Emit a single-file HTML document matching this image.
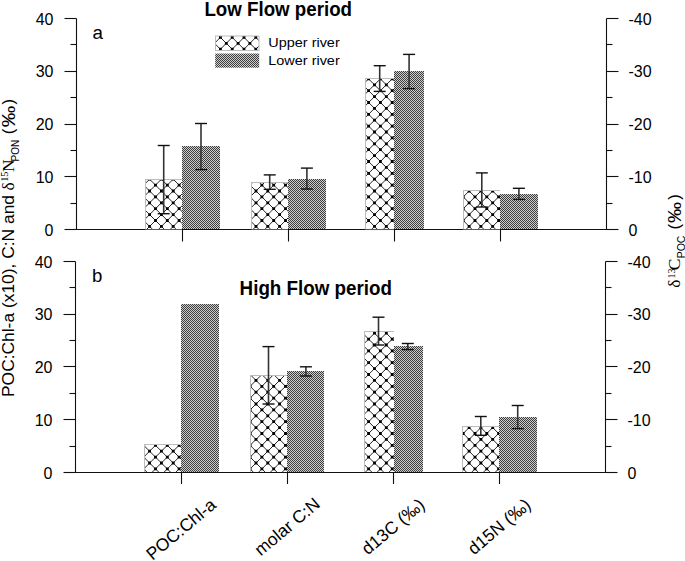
<!DOCTYPE html>
<html><head><meta charset="utf-8"><style>
html,body{margin:0;padding:0;background:#fff;}
body{width:685px;height:561px;overflow:hidden;position:relative;}
svg{position:absolute;left:0;top:0;}
text{fill:#000;}
</style></head><body>
<svg width="685" height="561" viewBox="0 0 685 561">
<defs>
<pattern id="dark" patternUnits="userSpaceOnUse" width="2" height="2">
<rect width="2" height="2" fill="#cecece"/>
<rect width="1" height="1" fill="#3c3c3c"/>
<rect x="1" y="1" width="1" height="1" fill="#3c3c3c"/>
</pattern>
</defs>
<path d="M76.5 18.5V229.5H606.5V18.5" fill="none" stroke="#111" stroke-width="1.1"/>
<line x1="64.5" y1="229.5" x2="76.5" y2="229.5" stroke="#111" stroke-width="1.1"/>
<line x1="606.5" y1="229.5" x2="618.5" y2="229.5" stroke="#111" stroke-width="1.1"/>
<line x1="70.5" y1="203.5" x2="76.5" y2="203.5" stroke="#111" stroke-width="1.1"/>
<line x1="606.5" y1="203.5" x2="612.5" y2="203.5" stroke="#111" stroke-width="1.1"/>
<line x1="64.5" y1="176.5" x2="76.5" y2="176.5" stroke="#111" stroke-width="1.1"/>
<line x1="606.5" y1="176.5" x2="618.5" y2="176.5" stroke="#111" stroke-width="1.1"/>
<line x1="70.5" y1="150.5" x2="76.5" y2="150.5" stroke="#111" stroke-width="1.1"/>
<line x1="606.5" y1="150.5" x2="612.5" y2="150.5" stroke="#111" stroke-width="1.1"/>
<line x1="64.5" y1="124.5" x2="76.5" y2="124.5" stroke="#111" stroke-width="1.1"/>
<line x1="606.5" y1="124.5" x2="618.5" y2="124.5" stroke="#111" stroke-width="1.1"/>
<line x1="70.5" y1="97.5" x2="76.5" y2="97.5" stroke="#111" stroke-width="1.1"/>
<line x1="606.5" y1="97.5" x2="612.5" y2="97.5" stroke="#111" stroke-width="1.1"/>
<line x1="64.5" y1="71.5" x2="76.5" y2="71.5" stroke="#111" stroke-width="1.1"/>
<line x1="606.5" y1="71.5" x2="618.5" y2="71.5" stroke="#111" stroke-width="1.1"/>
<line x1="70.5" y1="44.5" x2="76.5" y2="44.5" stroke="#111" stroke-width="1.1"/>
<line x1="606.5" y1="44.5" x2="612.5" y2="44.5" stroke="#111" stroke-width="1.1"/>
<line x1="64.5" y1="18.5" x2="76.5" y2="18.5" stroke="#111" stroke-width="1.1"/>
<line x1="606.5" y1="18.5" x2="618.5" y2="18.5" stroke="#111" stroke-width="1.1"/>
<clipPath id="ca0"><rect x="145" y="179" width="37.00" height="51.00"/></clipPath><clipPath id="ca0i"><rect x="146" y="180" width="36.00" height="50.00"/></clipPath><rect x="145" y="179" width="37.00" height="51.00" fill="#bcbcbc"/><rect x="146" y="180" width="36.00" height="50.00" fill="#fff"/><path clip-path="url(#ca0i)" d="M77.60 178.00L130.60 231.00M89.40 178.00L142.40 231.00M101.20 178.00L154.20 231.00M113.00 178.00L166.00 231.00M124.80 178.00L177.80 231.00M136.60 178.00L189.60 231.00M148.40 178.00L201.40 231.00M160.20 178.00L213.20 231.00M172.00 178.00L225.00 231.00M183.80 178.00L236.80 231.00M195.60 178.00L248.60 231.00M127.20 178.00L74.20 231.00M139.00 178.00L86.00 231.00M150.80 178.00L97.80 231.00M162.60 178.00L109.60 231.00M174.40 178.00L121.40 231.00M186.20 178.00L133.20 231.00M198.00 178.00L145.00 231.00M209.80 178.00L156.80 231.00M221.60 178.00L168.60 231.00M233.40 178.00L180.40 231.00M245.20 178.00L192.20 231.00M257.00 178.00L204.00 231.00" stroke="#1a1a1a" stroke-width="0.95" fill="none"/><path clip-path="url(#ca0i)" d="M142.30 183.70h2.8v2.8h-2.8zM154.10 183.70h2.8v2.8h-2.8zM165.90 183.70h2.8v2.8h-2.8zM177.70 183.70h2.8v2.8h-2.8zM142.30 195.50h2.8v2.8h-2.8zM154.10 195.50h2.8v2.8h-2.8zM165.90 195.50h2.8v2.8h-2.8zM177.70 195.50h2.8v2.8h-2.8zM142.30 207.30h2.8v2.8h-2.8zM154.10 207.30h2.8v2.8h-2.8zM165.90 207.30h2.8v2.8h-2.8zM177.70 207.30h2.8v2.8h-2.8zM142.30 219.10h2.8v2.8h-2.8zM154.10 219.10h2.8v2.8h-2.8zM165.90 219.10h2.8v2.8h-2.8zM177.70 219.10h2.8v2.8h-2.8zM148.20 177.80h2.8v2.8h-2.8zM160.00 177.80h2.8v2.8h-2.8zM171.80 177.80h2.8v2.8h-2.8zM148.20 189.60h2.8v2.8h-2.8zM160.00 189.60h2.8v2.8h-2.8zM171.80 189.60h2.8v2.8h-2.8zM148.20 201.40h2.8v2.8h-2.8zM160.00 201.40h2.8v2.8h-2.8zM171.80 201.40h2.8v2.8h-2.8zM148.20 213.20h2.8v2.8h-2.8zM160.00 213.20h2.8v2.8h-2.8zM171.80 213.20h2.8v2.8h-2.8zM148.20 225.00h2.8v2.8h-2.8zM160.00 225.00h2.8v2.8h-2.8zM171.80 225.00h2.8v2.8h-2.8z" fill="#000"/>
<rect x="182" y="146" width="38" height="84.0" fill="url(#dark)"/>
<clipPath id="ca1"><rect x="251" y="182" width="37.00" height="48.00"/></clipPath><clipPath id="ca1i"><rect x="252" y="183" width="36.00" height="47.00"/></clipPath><rect x="251" y="182" width="37.00" height="48.00" fill="#bcbcbc"/><rect x="252" y="183" width="36.00" height="47.00" fill="#fff"/><path clip-path="url(#ca1i)" d="M187.00 181.00L237.00 231.00M198.80 181.00L248.80 231.00M210.60 181.00L260.60 231.00M222.40 181.00L272.40 231.00M234.20 181.00L284.20 231.00M246.00 181.00L296.00 231.00M257.80 181.00L307.80 231.00M269.60 181.00L319.60 231.00M281.40 181.00L331.40 231.00M293.20 181.00L343.20 231.00M305.00 181.00L355.00 231.00M230.60 181.00L180.60 231.00M242.40 181.00L192.40 231.00M254.20 181.00L204.20 231.00M266.00 181.00L216.00 231.00M277.80 181.00L227.80 231.00M289.60 181.00L239.60 231.00M301.40 181.00L251.40 231.00M313.20 181.00L263.20 231.00M325.00 181.00L275.00 231.00M336.80 181.00L286.80 231.00M348.60 181.00L298.60 231.00M360.40 181.00L310.40 231.00" stroke="#1a1a1a" stroke-width="0.95" fill="none"/><path clip-path="url(#ca1i)" d="M248.70 183.70h2.8v2.8h-2.8zM260.50 183.70h2.8v2.8h-2.8zM272.30 183.70h2.8v2.8h-2.8zM284.10 183.70h2.8v2.8h-2.8zM248.70 195.50h2.8v2.8h-2.8zM260.50 195.50h2.8v2.8h-2.8zM272.30 195.50h2.8v2.8h-2.8zM284.10 195.50h2.8v2.8h-2.8zM248.70 207.30h2.8v2.8h-2.8zM260.50 207.30h2.8v2.8h-2.8zM272.30 207.30h2.8v2.8h-2.8zM284.10 207.30h2.8v2.8h-2.8zM248.70 219.10h2.8v2.8h-2.8zM260.50 219.10h2.8v2.8h-2.8zM272.30 219.10h2.8v2.8h-2.8zM284.10 219.10h2.8v2.8h-2.8zM254.60 189.60h2.8v2.8h-2.8zM266.40 189.60h2.8v2.8h-2.8zM278.20 189.60h2.8v2.8h-2.8zM254.60 201.40h2.8v2.8h-2.8zM266.40 201.40h2.8v2.8h-2.8zM278.20 201.40h2.8v2.8h-2.8zM254.60 213.20h2.8v2.8h-2.8zM266.40 213.20h2.8v2.8h-2.8zM278.20 213.20h2.8v2.8h-2.8zM254.60 225.00h2.8v2.8h-2.8zM266.40 225.00h2.8v2.8h-2.8zM278.20 225.00h2.8v2.8h-2.8z" fill="#000"/>
<rect x="288" y="179" width="38" height="51.0" fill="url(#dark)"/>
<clipPath id="ca2"><rect x="365" y="78" width="29.00" height="152.00"/></clipPath><clipPath id="ca2i"><rect x="366" y="79" width="28.00" height="151.00"/></clipPath><rect x="365" y="78" width="29.00" height="152.00" fill="#bcbcbc"/><rect x="366" y="79" width="28.00" height="151.00" fill="#fff"/><path clip-path="url(#ca2i)" d="M189.70 77.00L343.70 231.00M201.50 77.00L355.50 231.00M213.30 77.00L367.30 231.00M225.10 77.00L379.10 231.00M236.90 77.00L390.90 231.00M248.70 77.00L402.70 231.00M260.50 77.00L414.50 231.00M272.30 77.00L426.30 231.00M284.10 77.00L438.10 231.00M295.90 77.00L449.90 231.00M307.70 77.00L461.70 231.00M319.50 77.00L473.50 231.00M331.30 77.00L485.30 231.00M343.10 77.00L497.10 231.00M354.90 77.00L508.90 231.00M366.70 77.00L520.70 231.00M378.50 77.00L532.50 231.00M390.30 77.00L544.30 231.00M402.10 77.00L556.10 231.00M413.90 77.00L567.90 231.00M346.90 77.00L192.90 231.00M358.70 77.00L204.70 231.00M370.50 77.00L216.50 231.00M382.30 77.00L228.30 231.00M394.10 77.00L240.10 231.00M405.90 77.00L251.90 231.00M417.70 77.00L263.70 231.00M429.50 77.00L275.50 231.00M441.30 77.00L287.30 231.00M453.10 77.00L299.10 231.00M464.90 77.00L310.90 231.00M476.70 77.00L322.70 231.00M488.50 77.00L334.50 231.00M500.30 77.00L346.30 231.00M512.10 77.00L358.10 231.00M523.90 77.00L369.90 231.00M535.70 77.00L381.70 231.00M547.50 77.00L393.50 231.00M559.30 77.00L405.30 231.00" stroke="#1a1a1a" stroke-width="0.95" fill="none"/><path clip-path="url(#ca2i)" d="M367.20 77.50h2.8v2.8h-2.8zM379.00 77.50h2.8v2.8h-2.8zM390.80 77.50h2.8v2.8h-2.8zM367.20 89.30h2.8v2.8h-2.8zM379.00 89.30h2.8v2.8h-2.8zM390.80 89.30h2.8v2.8h-2.8zM367.20 101.10h2.8v2.8h-2.8zM379.00 101.10h2.8v2.8h-2.8zM390.80 101.10h2.8v2.8h-2.8zM367.20 112.90h2.8v2.8h-2.8zM379.00 112.90h2.8v2.8h-2.8zM390.80 112.90h2.8v2.8h-2.8zM367.20 124.70h2.8v2.8h-2.8zM379.00 124.70h2.8v2.8h-2.8zM390.80 124.70h2.8v2.8h-2.8zM367.20 136.50h2.8v2.8h-2.8zM379.00 136.50h2.8v2.8h-2.8zM390.80 136.50h2.8v2.8h-2.8zM367.20 148.30h2.8v2.8h-2.8zM379.00 148.30h2.8v2.8h-2.8zM390.80 148.30h2.8v2.8h-2.8zM367.20 160.10h2.8v2.8h-2.8zM379.00 160.10h2.8v2.8h-2.8zM390.80 160.10h2.8v2.8h-2.8zM367.20 171.90h2.8v2.8h-2.8zM379.00 171.90h2.8v2.8h-2.8zM390.80 171.90h2.8v2.8h-2.8zM367.20 183.70h2.8v2.8h-2.8zM379.00 183.70h2.8v2.8h-2.8zM390.80 183.70h2.8v2.8h-2.8zM367.20 195.50h2.8v2.8h-2.8zM379.00 195.50h2.8v2.8h-2.8zM390.80 195.50h2.8v2.8h-2.8zM367.20 207.30h2.8v2.8h-2.8zM379.00 207.30h2.8v2.8h-2.8zM390.80 207.30h2.8v2.8h-2.8zM367.20 219.10h2.8v2.8h-2.8zM379.00 219.10h2.8v2.8h-2.8zM390.80 219.10h2.8v2.8h-2.8zM373.10 83.40h2.8v2.8h-2.8zM384.90 83.40h2.8v2.8h-2.8zM373.10 95.20h2.8v2.8h-2.8zM384.90 95.20h2.8v2.8h-2.8zM373.10 107.00h2.8v2.8h-2.8zM384.90 107.00h2.8v2.8h-2.8zM373.10 118.80h2.8v2.8h-2.8zM384.90 118.80h2.8v2.8h-2.8zM373.10 130.60h2.8v2.8h-2.8zM384.90 130.60h2.8v2.8h-2.8zM373.10 142.40h2.8v2.8h-2.8zM384.90 142.40h2.8v2.8h-2.8zM373.10 154.20h2.8v2.8h-2.8zM384.90 154.20h2.8v2.8h-2.8zM373.10 166.00h2.8v2.8h-2.8zM384.90 166.00h2.8v2.8h-2.8zM373.10 177.80h2.8v2.8h-2.8zM384.90 177.80h2.8v2.8h-2.8zM373.10 189.60h2.8v2.8h-2.8zM384.90 189.60h2.8v2.8h-2.8zM373.10 201.40h2.8v2.8h-2.8zM384.90 201.40h2.8v2.8h-2.8zM373.10 213.20h2.8v2.8h-2.8zM384.90 213.20h2.8v2.8h-2.8zM373.10 225.00h2.8v2.8h-2.8zM384.90 225.00h2.8v2.8h-2.8z" fill="#000"/>
<rect x="394" y="71" width="30" height="159.0" fill="url(#dark)"/>
<clipPath id="ca3"><rect x="463" y="190" width="37.00" height="40.00"/></clipPath><clipPath id="ca3i"><rect x="464" y="191" width="36.00" height="39.00"/></clipPath><rect x="463" y="190" width="37.00" height="40.00" fill="#bcbcbc"/><rect x="464" y="191" width="36.00" height="39.00" fill="#fff"/><path clip-path="url(#ca3i)" d="M408.10 189.00L450.10 231.00M419.90 189.00L461.90 231.00M431.70 189.00L473.70 231.00M443.50 189.00L485.50 231.00M455.30 189.00L497.30 231.00M467.10 189.00L509.10 231.00M478.90 189.00L520.90 231.00M490.70 189.00L532.70 231.00M502.50 189.00L544.50 231.00M514.30 189.00L556.30 231.00M447.50 189.00L405.50 231.00M459.30 189.00L417.30 231.00M471.10 189.00L429.10 231.00M482.90 189.00L440.90 231.00M494.70 189.00L452.70 231.00M506.50 189.00L464.50 231.00M518.30 189.00L476.30 231.00M530.10 189.00L488.10 231.00M541.90 189.00L499.90 231.00M553.70 189.00L511.70 231.00" stroke="#1a1a1a" stroke-width="0.95" fill="none"/><path clip-path="url(#ca3i)" d="M461.80 195.50h2.8v2.8h-2.8zM473.60 195.50h2.8v2.8h-2.8zM485.40 195.50h2.8v2.8h-2.8zM497.20 195.50h2.8v2.8h-2.8zM461.80 207.30h2.8v2.8h-2.8zM473.60 207.30h2.8v2.8h-2.8zM485.40 207.30h2.8v2.8h-2.8zM497.20 207.30h2.8v2.8h-2.8zM461.80 219.10h2.8v2.8h-2.8zM473.60 219.10h2.8v2.8h-2.8zM485.40 219.10h2.8v2.8h-2.8zM497.20 219.10h2.8v2.8h-2.8zM467.70 189.60h2.8v2.8h-2.8zM479.50 189.60h2.8v2.8h-2.8zM491.30 189.60h2.8v2.8h-2.8zM467.70 201.40h2.8v2.8h-2.8zM479.50 201.40h2.8v2.8h-2.8zM491.30 201.40h2.8v2.8h-2.8zM467.70 213.20h2.8v2.8h-2.8zM479.50 213.20h2.8v2.8h-2.8zM491.30 213.20h2.8v2.8h-2.8zM467.70 225.00h2.8v2.8h-2.8zM479.50 225.00h2.8v2.8h-2.8zM491.30 225.00h2.8v2.8h-2.8z" fill="#000"/>
<rect x="500" y="194" width="38" height="36.0" fill="url(#dark)"/>
<line x1="163.7" y1="145.5" x2="163.7" y2="213.7" stroke="#333" stroke-width="1.6"/>
<line x1="157.7" y1="145.5" x2="169.7" y2="145.5" stroke="#111" stroke-width="1.4"/>
<line x1="157.7" y1="213.7" x2="169.7" y2="213.7" stroke="#111" stroke-width="1.4"/>
<line x1="201" y1="123.5" x2="201" y2="169.6" stroke="#333" stroke-width="1.6"/>
<line x1="195" y1="123.5" x2="207" y2="123.5" stroke="#111" stroke-width="1.4"/>
<line x1="195" y1="169.6" x2="207" y2="169.6" stroke="#111" stroke-width="1.4"/>
<line x1="269.7" y1="174.9" x2="269.7" y2="189.3" stroke="#333" stroke-width="1.6"/>
<line x1="263.7" y1="174.9" x2="275.7" y2="174.9" stroke="#111" stroke-width="1.4"/>
<line x1="263.7" y1="189.3" x2="275.7" y2="189.3" stroke="#111" stroke-width="1.4"/>
<line x1="306.9" y1="168.1" x2="306.9" y2="189" stroke="#333" stroke-width="1.6"/>
<line x1="300.9" y1="168.1" x2="312.9" y2="168.1" stroke="#111" stroke-width="1.4"/>
<line x1="300.9" y1="189" x2="312.9" y2="189" stroke="#111" stroke-width="1.4"/>
<line x1="379.7" y1="65.7" x2="379.7" y2="91.4" stroke="#333" stroke-width="1.6"/>
<line x1="373.7" y1="65.7" x2="385.7" y2="65.7" stroke="#111" stroke-width="1.4"/>
<line x1="373.7" y1="91.4" x2="385.7" y2="91.4" stroke="#111" stroke-width="1.4"/>
<line x1="409.1" y1="54.4" x2="409.1" y2="88.6" stroke="#333" stroke-width="1.6"/>
<line x1="403.1" y1="54.4" x2="415.1" y2="54.4" stroke="#111" stroke-width="1.4"/>
<line x1="403.1" y1="88.6" x2="415.1" y2="88.6" stroke="#111" stroke-width="1.4"/>
<line x1="481.8" y1="172.9" x2="481.8" y2="207" stroke="#333" stroke-width="1.6"/>
<line x1="475.8" y1="172.9" x2="487.8" y2="172.9" stroke="#111" stroke-width="1.4"/>
<line x1="475.8" y1="207" x2="487.8" y2="207" stroke="#111" stroke-width="1.4"/>
<line x1="518.9" y1="188.3" x2="518.9" y2="199.4" stroke="#333" stroke-width="1.6"/>
<line x1="512.9" y1="188.3" x2="524.9" y2="188.3" stroke="#111" stroke-width="1.4"/>
<line x1="512.9" y1="199.4" x2="524.9" y2="199.4" stroke="#111" stroke-width="1.4"/>
<line x1="76.5" y1="229.5" x2="606.5" y2="229.5" stroke="#111" stroke-width="1.1"/>
<line x1="145" y1="229.5" x2="182" y2="229.5" stroke="#5a5a5a" stroke-width="1.1"/>
<line x1="251" y1="229.5" x2="288" y2="229.5" stroke="#5a5a5a" stroke-width="1.1"/>
<line x1="365" y1="229.5" x2="394" y2="229.5" stroke="#5a5a5a" stroke-width="1.1"/>
<line x1="463" y1="229.5" x2="500" y2="229.5" stroke="#5a5a5a" stroke-width="1.1"/>
<line x1="182.5" y1="229.5" x2="182.5" y2="241.5" stroke="#111" stroke-width="1.1"/>
<line x1="288.5" y1="229.5" x2="288.5" y2="241.5" stroke="#111" stroke-width="1.1"/>
<line x1="394.5" y1="229.5" x2="394.5" y2="241.5" stroke="#111" stroke-width="1.1"/>
<line x1="500.5" y1="229.5" x2="500.5" y2="241.5" stroke="#111" stroke-width="1.1"/>
<path d="M75.5 261.5V472.5H605.5V261.5" fill="none" stroke="#111" stroke-width="1.1"/>
<line x1="63.5" y1="472.5" x2="75.5" y2="472.5" stroke="#111" stroke-width="1.1"/>
<line x1="605.5" y1="472.5" x2="617.5" y2="472.5" stroke="#111" stroke-width="1.1"/>
<line x1="69.5" y1="446.5" x2="75.5" y2="446.5" stroke="#111" stroke-width="1.1"/>
<line x1="605.5" y1="446.5" x2="611.5" y2="446.5" stroke="#111" stroke-width="1.1"/>
<line x1="63.5" y1="419.5" x2="75.5" y2="419.5" stroke="#111" stroke-width="1.1"/>
<line x1="605.5" y1="419.5" x2="617.5" y2="419.5" stroke="#111" stroke-width="1.1"/>
<line x1="69.5" y1="393.5" x2="75.5" y2="393.5" stroke="#111" stroke-width="1.1"/>
<line x1="605.5" y1="393.5" x2="611.5" y2="393.5" stroke="#111" stroke-width="1.1"/>
<line x1="63.5" y1="366.5" x2="75.5" y2="366.5" stroke="#111" stroke-width="1.1"/>
<line x1="605.5" y1="366.5" x2="617.5" y2="366.5" stroke="#111" stroke-width="1.1"/>
<line x1="69.5" y1="340.5" x2="75.5" y2="340.5" stroke="#111" stroke-width="1.1"/>
<line x1="605.5" y1="340.5" x2="611.5" y2="340.5" stroke="#111" stroke-width="1.1"/>
<line x1="63.5" y1="314.5" x2="75.5" y2="314.5" stroke="#111" stroke-width="1.1"/>
<line x1="605.5" y1="314.5" x2="617.5" y2="314.5" stroke="#111" stroke-width="1.1"/>
<line x1="69.5" y1="287.5" x2="75.5" y2="287.5" stroke="#111" stroke-width="1.1"/>
<line x1="605.5" y1="287.5" x2="611.5" y2="287.5" stroke="#111" stroke-width="1.1"/>
<line x1="63.5" y1="261.5" x2="75.5" y2="261.5" stroke="#111" stroke-width="1.1"/>
<line x1="605.5" y1="261.5" x2="617.5" y2="261.5" stroke="#111" stroke-width="1.1"/>
<clipPath id="cb0"><rect x="144" y="444" width="37.00" height="29.00"/></clipPath><clipPath id="cb0i"><rect x="145" y="445" width="36.00" height="28.00"/></clipPath><rect x="144" y="444" width="37.00" height="29.00" fill="#bcbcbc"/><rect x="145" y="445" width="36.00" height="28.00" fill="#fff"/><path clip-path="url(#cb0i)" d="M94.20 443.00L125.20 474.00M106.00 443.00L137.00 474.00M117.80 443.00L148.80 474.00M129.60 443.00L160.60 474.00M141.40 443.00L172.40 474.00M153.20 443.00L184.20 474.00M165.00 443.00L196.00 474.00M176.80 443.00L207.80 474.00M188.60 443.00L219.60 474.00M200.40 443.00L231.40 474.00M122.40 443.00L91.40 474.00M134.20 443.00L103.20 474.00M146.00 443.00L115.00 474.00M157.80 443.00L126.80 474.00M169.60 443.00L138.60 474.00M181.40 443.00L150.40 474.00M193.20 443.00L162.20 474.00M205.00 443.00L174.00 474.00M216.80 443.00L185.80 474.00M228.60 443.00L197.60 474.00" stroke="#1a1a1a" stroke-width="0.95" fill="none"/><path clip-path="url(#cb0i)" d="M142.30 443.90h2.8v2.8h-2.8zM154.10 443.90h2.8v2.8h-2.8zM165.90 443.90h2.8v2.8h-2.8zM177.70 443.90h2.8v2.8h-2.8zM142.30 455.70h2.8v2.8h-2.8zM154.10 455.70h2.8v2.8h-2.8zM165.90 455.70h2.8v2.8h-2.8zM177.70 455.70h2.8v2.8h-2.8zM142.30 467.50h2.8v2.8h-2.8zM154.10 467.50h2.8v2.8h-2.8zM165.90 467.50h2.8v2.8h-2.8zM177.70 467.50h2.8v2.8h-2.8zM148.20 449.80h2.8v2.8h-2.8zM160.00 449.80h2.8v2.8h-2.8zM171.80 449.80h2.8v2.8h-2.8zM148.20 461.60h2.8v2.8h-2.8zM160.00 461.60h2.8v2.8h-2.8zM171.80 461.60h2.8v2.8h-2.8zM148.20 473.40h2.8v2.8h-2.8zM160.00 473.40h2.8v2.8h-2.8zM171.80 473.40h2.8v2.8h-2.8z" fill="#000"/>
<rect x="181" y="304" width="38" height="169.0" fill="url(#dark)"/>
<clipPath id="cb1"><rect x="250" y="375" width="37.00" height="98.00"/></clipPath><clipPath id="cb1i"><rect x="251" y="376" width="36.00" height="97.00"/></clipPath><rect x="250" y="375" width="37.00" height="98.00" fill="#bcbcbc"/><rect x="251" y="376" width="36.00" height="97.00" fill="#fff"/><path clip-path="url(#cb1i)" d="M131.60 374.00L231.60 474.00M143.40 374.00L243.40 474.00M155.20 374.00L255.20 474.00M167.00 374.00L267.00 474.00M178.80 374.00L278.80 474.00M190.60 374.00L290.60 474.00M202.40 374.00L302.40 474.00M214.20 374.00L314.20 474.00M226.00 374.00L326.00 474.00M237.80 374.00L337.80 474.00M249.60 374.00L349.60 474.00M261.40 374.00L361.40 474.00M273.20 374.00L373.20 474.00M285.00 374.00L385.00 474.00M296.80 374.00L396.80 474.00M308.60 374.00L408.60 474.00M238.80 374.00L138.80 474.00M250.60 374.00L150.60 474.00M262.40 374.00L162.40 474.00M274.20 374.00L174.20 474.00M286.00 374.00L186.00 474.00M297.80 374.00L197.80 474.00M309.60 374.00L209.60 474.00M321.40 374.00L221.40 474.00M333.20 374.00L233.20 474.00M345.00 374.00L245.00 474.00M356.80 374.00L256.80 474.00M368.60 374.00L268.60 474.00M380.40 374.00L280.40 474.00M392.20 374.00L292.20 474.00M404.00 374.00L304.00 474.00" stroke="#1a1a1a" stroke-width="0.95" fill="none"/><path clip-path="url(#cb1i)" d="M248.70 373.10h2.8v2.8h-2.8zM260.50 373.10h2.8v2.8h-2.8zM272.30 373.10h2.8v2.8h-2.8zM284.10 373.10h2.8v2.8h-2.8zM248.70 384.90h2.8v2.8h-2.8zM260.50 384.90h2.8v2.8h-2.8zM272.30 384.90h2.8v2.8h-2.8zM284.10 384.90h2.8v2.8h-2.8zM248.70 396.70h2.8v2.8h-2.8zM260.50 396.70h2.8v2.8h-2.8zM272.30 396.70h2.8v2.8h-2.8zM284.10 396.70h2.8v2.8h-2.8zM248.70 408.50h2.8v2.8h-2.8zM260.50 408.50h2.8v2.8h-2.8zM272.30 408.50h2.8v2.8h-2.8zM284.10 408.50h2.8v2.8h-2.8zM248.70 420.30h2.8v2.8h-2.8zM260.50 420.30h2.8v2.8h-2.8zM272.30 420.30h2.8v2.8h-2.8zM284.10 420.30h2.8v2.8h-2.8zM248.70 432.10h2.8v2.8h-2.8zM260.50 432.10h2.8v2.8h-2.8zM272.30 432.10h2.8v2.8h-2.8zM284.10 432.10h2.8v2.8h-2.8zM248.70 443.90h2.8v2.8h-2.8zM260.50 443.90h2.8v2.8h-2.8zM272.30 443.90h2.8v2.8h-2.8zM284.10 443.90h2.8v2.8h-2.8zM248.70 455.70h2.8v2.8h-2.8zM260.50 455.70h2.8v2.8h-2.8zM272.30 455.70h2.8v2.8h-2.8zM284.10 455.70h2.8v2.8h-2.8zM248.70 467.50h2.8v2.8h-2.8zM260.50 467.50h2.8v2.8h-2.8zM272.30 467.50h2.8v2.8h-2.8zM284.10 467.50h2.8v2.8h-2.8zM254.60 379.00h2.8v2.8h-2.8zM266.40 379.00h2.8v2.8h-2.8zM278.20 379.00h2.8v2.8h-2.8zM254.60 390.80h2.8v2.8h-2.8zM266.40 390.80h2.8v2.8h-2.8zM278.20 390.80h2.8v2.8h-2.8zM254.60 402.60h2.8v2.8h-2.8zM266.40 402.60h2.8v2.8h-2.8zM278.20 402.60h2.8v2.8h-2.8zM254.60 414.40h2.8v2.8h-2.8zM266.40 414.40h2.8v2.8h-2.8zM278.20 414.40h2.8v2.8h-2.8zM254.60 426.20h2.8v2.8h-2.8zM266.40 426.20h2.8v2.8h-2.8zM278.20 426.20h2.8v2.8h-2.8zM254.60 438.00h2.8v2.8h-2.8zM266.40 438.00h2.8v2.8h-2.8zM278.20 438.00h2.8v2.8h-2.8zM254.60 449.80h2.8v2.8h-2.8zM266.40 449.80h2.8v2.8h-2.8zM278.20 449.80h2.8v2.8h-2.8zM254.60 461.60h2.8v2.8h-2.8zM266.40 461.60h2.8v2.8h-2.8zM278.20 461.60h2.8v2.8h-2.8zM254.60 473.40h2.8v2.8h-2.8zM266.40 473.40h2.8v2.8h-2.8zM278.20 473.40h2.8v2.8h-2.8z" fill="#000"/>
<rect x="287" y="371" width="37" height="102.0" fill="url(#dark)"/>
<clipPath id="cb2"><rect x="364" y="331" width="30.00" height="142.00"/></clipPath><clipPath id="cb2i"><rect x="365" y="332" width="29.00" height="141.00"/></clipPath><rect x="364" y="331" width="30.00" height="142.00" fill="#bcbcbc"/><rect x="365" y="332" width="29.00" height="141.00" fill="#fff"/><path clip-path="url(#cb2i)" d="M206.10 330.00L350.10 474.00M217.90 330.00L361.90 474.00M229.70 330.00L373.70 474.00M241.50 330.00L385.50 474.00M253.30 330.00L397.30 474.00M265.10 330.00L409.10 474.00M276.90 330.00L420.90 474.00M288.70 330.00L432.70 474.00M300.50 330.00L444.50 474.00M312.30 330.00L456.30 474.00M324.10 330.00L468.10 474.00M335.90 330.00L479.90 474.00M347.70 330.00L491.70 474.00M359.50 330.00L503.50 474.00M371.30 330.00L515.30 474.00M383.10 330.00L527.10 474.00M394.90 330.00L538.90 474.00M406.70 330.00L550.70 474.00M342.30 330.00L198.30 474.00M354.10 330.00L210.10 474.00M365.90 330.00L221.90 474.00M377.70 330.00L233.70 474.00M389.50 330.00L245.50 474.00M401.30 330.00L257.30 474.00M413.10 330.00L269.10 474.00M424.90 330.00L280.90 474.00M436.70 330.00L292.70 474.00M448.50 330.00L304.50 474.00M460.30 330.00L316.30 474.00M472.10 330.00L328.10 474.00M483.90 330.00L339.90 474.00M495.70 330.00L351.70 474.00M507.50 330.00L363.50 474.00M519.30 330.00L375.30 474.00M531.10 330.00L387.10 474.00M542.90 330.00L398.90 474.00M554.70 330.00L410.70 474.00" stroke="#1a1a1a" stroke-width="0.95" fill="none"/><path clip-path="url(#cb2i)" d="M367.20 337.70h2.8v2.8h-2.8zM379.00 337.70h2.8v2.8h-2.8zM390.80 337.70h2.8v2.8h-2.8zM367.20 349.50h2.8v2.8h-2.8zM379.00 349.50h2.8v2.8h-2.8zM390.80 349.50h2.8v2.8h-2.8zM367.20 361.30h2.8v2.8h-2.8zM379.00 361.30h2.8v2.8h-2.8zM390.80 361.30h2.8v2.8h-2.8zM367.20 373.10h2.8v2.8h-2.8zM379.00 373.10h2.8v2.8h-2.8zM390.80 373.10h2.8v2.8h-2.8zM367.20 384.90h2.8v2.8h-2.8zM379.00 384.90h2.8v2.8h-2.8zM390.80 384.90h2.8v2.8h-2.8zM367.20 396.70h2.8v2.8h-2.8zM379.00 396.70h2.8v2.8h-2.8zM390.80 396.70h2.8v2.8h-2.8zM367.20 408.50h2.8v2.8h-2.8zM379.00 408.50h2.8v2.8h-2.8zM390.80 408.50h2.8v2.8h-2.8zM367.20 420.30h2.8v2.8h-2.8zM379.00 420.30h2.8v2.8h-2.8zM390.80 420.30h2.8v2.8h-2.8zM367.20 432.10h2.8v2.8h-2.8zM379.00 432.10h2.8v2.8h-2.8zM390.80 432.10h2.8v2.8h-2.8zM367.20 443.90h2.8v2.8h-2.8zM379.00 443.90h2.8v2.8h-2.8zM390.80 443.90h2.8v2.8h-2.8zM367.20 455.70h2.8v2.8h-2.8zM379.00 455.70h2.8v2.8h-2.8zM390.80 455.70h2.8v2.8h-2.8zM367.20 467.50h2.8v2.8h-2.8zM379.00 467.50h2.8v2.8h-2.8zM390.80 467.50h2.8v2.8h-2.8zM361.30 331.80h2.8v2.8h-2.8zM373.10 331.80h2.8v2.8h-2.8zM384.90 331.80h2.8v2.8h-2.8zM361.30 343.60h2.8v2.8h-2.8zM373.10 343.60h2.8v2.8h-2.8zM384.90 343.60h2.8v2.8h-2.8zM361.30 355.40h2.8v2.8h-2.8zM373.10 355.40h2.8v2.8h-2.8zM384.90 355.40h2.8v2.8h-2.8zM361.30 367.20h2.8v2.8h-2.8zM373.10 367.20h2.8v2.8h-2.8zM384.90 367.20h2.8v2.8h-2.8zM361.30 379.00h2.8v2.8h-2.8zM373.10 379.00h2.8v2.8h-2.8zM384.90 379.00h2.8v2.8h-2.8zM361.30 390.80h2.8v2.8h-2.8zM373.10 390.80h2.8v2.8h-2.8zM384.90 390.80h2.8v2.8h-2.8zM361.30 402.60h2.8v2.8h-2.8zM373.10 402.60h2.8v2.8h-2.8zM384.90 402.60h2.8v2.8h-2.8zM361.30 414.40h2.8v2.8h-2.8zM373.10 414.40h2.8v2.8h-2.8zM384.90 414.40h2.8v2.8h-2.8zM361.30 426.20h2.8v2.8h-2.8zM373.10 426.20h2.8v2.8h-2.8zM384.90 426.20h2.8v2.8h-2.8zM361.30 438.00h2.8v2.8h-2.8zM373.10 438.00h2.8v2.8h-2.8zM384.90 438.00h2.8v2.8h-2.8zM361.30 449.80h2.8v2.8h-2.8zM373.10 449.80h2.8v2.8h-2.8zM384.90 449.80h2.8v2.8h-2.8zM361.30 461.60h2.8v2.8h-2.8zM373.10 461.60h2.8v2.8h-2.8zM384.90 461.60h2.8v2.8h-2.8zM361.30 473.40h2.8v2.8h-2.8zM373.10 473.40h2.8v2.8h-2.8zM384.90 473.40h2.8v2.8h-2.8z" fill="#000"/>
<rect x="394" y="346" width="29" height="127.0" fill="url(#dark)"/>
<clipPath id="cb3"><rect x="462" y="426" width="37.00" height="47.00"/></clipPath><clipPath id="cb3i"><rect x="463" y="427" width="36.00" height="46.00"/></clipPath><rect x="462" y="426" width="37.00" height="47.00" fill="#bcbcbc"/><rect x="463" y="427" width="36.00" height="46.00" fill="#fff"/><path clip-path="url(#cb3i)" d="M395.70 425.00L444.70 474.00M407.50 425.00L456.50 474.00M419.30 425.00L468.30 474.00M431.10 425.00L480.10 474.00M442.90 425.00L491.90 474.00M454.70 425.00L503.70 474.00M466.50 425.00L515.50 474.00M478.30 425.00L527.30 474.00M490.10 425.00L539.10 474.00M501.90 425.00L550.90 474.00M513.70 425.00L562.70 474.00M448.10 425.00L399.10 474.00M459.90 425.00L410.90 474.00M471.70 425.00L422.70 474.00M483.50 425.00L434.50 474.00M495.30 425.00L446.30 474.00M507.10 425.00L458.10 474.00M518.90 425.00L469.90 474.00M530.70 425.00L481.70 474.00M542.50 425.00L493.50 474.00M554.30 425.00L505.30 474.00M566.10 425.00L517.10 474.00" stroke="#1a1a1a" stroke-width="0.95" fill="none"/><path clip-path="url(#cb3i)" d="M461.80 432.10h2.8v2.8h-2.8zM473.60 432.10h2.8v2.8h-2.8zM485.40 432.10h2.8v2.8h-2.8zM497.20 432.10h2.8v2.8h-2.8zM461.80 443.90h2.8v2.8h-2.8zM473.60 443.90h2.8v2.8h-2.8zM485.40 443.90h2.8v2.8h-2.8zM497.20 443.90h2.8v2.8h-2.8zM461.80 455.70h2.8v2.8h-2.8zM473.60 455.70h2.8v2.8h-2.8zM485.40 455.70h2.8v2.8h-2.8zM497.20 455.70h2.8v2.8h-2.8zM461.80 467.50h2.8v2.8h-2.8zM473.60 467.50h2.8v2.8h-2.8zM485.40 467.50h2.8v2.8h-2.8zM497.20 467.50h2.8v2.8h-2.8zM467.70 426.20h2.8v2.8h-2.8zM479.50 426.20h2.8v2.8h-2.8zM491.30 426.20h2.8v2.8h-2.8zM467.70 438.00h2.8v2.8h-2.8zM479.50 438.00h2.8v2.8h-2.8zM491.30 438.00h2.8v2.8h-2.8zM467.70 449.80h2.8v2.8h-2.8zM479.50 449.80h2.8v2.8h-2.8zM491.30 449.80h2.8v2.8h-2.8zM467.70 461.60h2.8v2.8h-2.8zM479.50 461.60h2.8v2.8h-2.8zM491.30 461.60h2.8v2.8h-2.8zM467.70 473.40h2.8v2.8h-2.8zM479.50 473.40h2.8v2.8h-2.8zM491.30 473.40h2.8v2.8h-2.8z" fill="#000"/>
<rect x="499" y="417" width="38" height="56.0" fill="url(#dark)"/>
<line x1="268.5" y1="346.6" x2="268.5" y2="404" stroke="#333" stroke-width="1.6"/>
<line x1="262.5" y1="346.6" x2="274.5" y2="346.6" stroke="#111" stroke-width="1.4"/>
<line x1="262.5" y1="404" x2="274.5" y2="404" stroke="#111" stroke-width="1.4"/>
<line x1="305.9" y1="366.8" x2="305.9" y2="376" stroke="#333" stroke-width="1.6"/>
<line x1="299.9" y1="366.8" x2="311.9" y2="366.8" stroke="#111" stroke-width="1.4"/>
<line x1="299.9" y1="376" x2="311.9" y2="376" stroke="#111" stroke-width="1.4"/>
<line x1="378.5" y1="317.2" x2="378.5" y2="345" stroke="#333" stroke-width="1.6"/>
<line x1="372.5" y1="317.2" x2="384.5" y2="317.2" stroke="#111" stroke-width="1.4"/>
<line x1="372.5" y1="345" x2="384.5" y2="345" stroke="#111" stroke-width="1.4"/>
<line x1="407.8" y1="343.5" x2="407.8" y2="349.6" stroke="#333" stroke-width="1.6"/>
<line x1="401.8" y1="343.5" x2="413.8" y2="343.5" stroke="#111" stroke-width="1.4"/>
<line x1="401.8" y1="349.6" x2="413.8" y2="349.6" stroke="#111" stroke-width="1.4"/>
<line x1="480.8" y1="416.5" x2="480.8" y2="435.3" stroke="#333" stroke-width="1.6"/>
<line x1="474.8" y1="416.5" x2="486.8" y2="416.5" stroke="#111" stroke-width="1.4"/>
<line x1="474.8" y1="435.3" x2="486.8" y2="435.3" stroke="#111" stroke-width="1.4"/>
<line x1="517.7" y1="405.5" x2="517.7" y2="428.6" stroke="#333" stroke-width="1.6"/>
<line x1="511.70000000000005" y1="405.5" x2="523.7" y2="405.5" stroke="#111" stroke-width="1.4"/>
<line x1="511.70000000000005" y1="428.6" x2="523.7" y2="428.6" stroke="#111" stroke-width="1.4"/>
<line x1="75.5" y1="472.5" x2="605.5" y2="472.5" stroke="#111" stroke-width="1.1"/>
<line x1="181.5" y1="472.5" x2="181.5" y2="484" stroke="#111" stroke-width="1.1"/>
<line x1="287.5" y1="472.5" x2="287.5" y2="484" stroke="#111" stroke-width="1.1"/>
<line x1="393.5" y1="472.5" x2="393.5" y2="484" stroke="#111" stroke-width="1.1"/>
<line x1="499.5" y1="472.5" x2="499.5" y2="484" stroke="#111" stroke-width="1.1"/>
<text x="53.5" y="235.6" font-family="'Liberation Sans', sans-serif" font-size="16" text-anchor="end">0</text>
<text x="628.5" y="235.6" font-family="'Liberation Sans', sans-serif" font-size="16">0</text>
<text x="53.5" y="182.85" font-family="'Liberation Sans', sans-serif" font-size="16" text-anchor="end">10</text>
<text x="628.5" y="182.85" font-family="'Liberation Sans', sans-serif" font-size="16">-10</text>
<text x="53.5" y="130.1" font-family="'Liberation Sans', sans-serif" font-size="16" text-anchor="end">20</text>
<text x="628.5" y="130.1" font-family="'Liberation Sans', sans-serif" font-size="16">-20</text>
<text x="53.5" y="77.35" font-family="'Liberation Sans', sans-serif" font-size="16" text-anchor="end">30</text>
<text x="628.5" y="77.35" font-family="'Liberation Sans', sans-serif" font-size="16">-30</text>
<text x="53.5" y="24.6" font-family="'Liberation Sans', sans-serif" font-size="16" text-anchor="end">40</text>
<text x="628.5" y="24.6" font-family="'Liberation Sans', sans-serif" font-size="16">-40</text>
<text x="52.5" y="478.6" font-family="'Liberation Sans', sans-serif" font-size="16" text-anchor="end">0</text>
<text x="627.5" y="478.6" font-family="'Liberation Sans', sans-serif" font-size="16">0</text>
<text x="52.5" y="425.85" font-family="'Liberation Sans', sans-serif" font-size="16" text-anchor="end">10</text>
<text x="627.5" y="425.85" font-family="'Liberation Sans', sans-serif" font-size="16">-10</text>
<text x="52.5" y="373.1" font-family="'Liberation Sans', sans-serif" font-size="16" text-anchor="end">20</text>
<text x="627.5" y="373.1" font-family="'Liberation Sans', sans-serif" font-size="16">-20</text>
<text x="52.5" y="320.35" font-family="'Liberation Sans', sans-serif" font-size="16" text-anchor="end">30</text>
<text x="627.5" y="320.35" font-family="'Liberation Sans', sans-serif" font-size="16">-30</text>
<text x="52.5" y="267.6" font-family="'Liberation Sans', sans-serif" font-size="16" text-anchor="end">40</text>
<text x="627.5" y="267.6" font-family="'Liberation Sans', sans-serif" font-size="16">-40</text>
<text x="92.6" y="38.8" font-family="'Liberation Sans', sans-serif" font-size="18.8">a</text>
<text x="91.9" y="281.8" font-family="'Liberation Sans', sans-serif" font-size="18.6">b</text>
<text x="204.4" y="15.6" font-family="'Liberation Sans', sans-serif" font-size="20" font-weight="bold" textLength="147.6" lengthAdjust="spacingAndGlyphs">Low Flow period</text>
<text x="239.6" y="294.8" font-family="'Liberation Sans', sans-serif" font-size="19.6" font-weight="bold" textLength="152.4" lengthAdjust="spacingAndGlyphs">High Flow period</text>
<clipPath id="cleg"><rect x="215" y="35.5" width="44.50" height="15.50"/></clipPath><clipPath id="clegi"><rect x="216" y="36.5" width="42.50" height="13.50"/></clipPath><rect x="215" y="35.5" width="44.50" height="15.50" fill="#bcbcbc"/><rect x="216" y="36.5" width="42.50" height="13.50" fill="#fff"/><path clip-path="url(#clegi)" d="M182.10 34.50L199.60 52.00M193.90 34.50L211.40 52.00M205.70 34.50L223.20 52.00M217.50 34.50L235.00 52.00M229.30 34.50L246.80 52.00M241.10 34.50L258.60 52.00M252.90 34.50L270.40 52.00M264.70 34.50L282.20 52.00M276.50 34.50L294.00 52.00M199.70 34.50L182.20 52.00M211.50 34.50L194.00 52.00M223.30 34.50L205.80 52.00M235.10 34.50L217.60 52.00M246.90 34.50L229.40 52.00M258.70 34.50L241.20 52.00M270.50 34.50L253.00 52.00M282.30 34.50L264.80 52.00M294.10 34.50L276.60 52.00" stroke="#1a1a1a" stroke-width="0.95" fill="none"/><path clip-path="url(#clegi)" d="M219.00 36.00h2.8v2.8h-2.8zM230.80 36.00h2.8v2.8h-2.8zM242.60 36.00h2.8v2.8h-2.8zM254.40 36.00h2.8v2.8h-2.8zM219.00 47.80h2.8v2.8h-2.8zM230.80 47.80h2.8v2.8h-2.8zM242.60 47.80h2.8v2.8h-2.8zM254.40 47.80h2.8v2.8h-2.8zM213.10 41.90h2.8v2.8h-2.8zM224.90 41.90h2.8v2.8h-2.8zM236.70 41.90h2.8v2.8h-2.8zM248.50 41.90h2.8v2.8h-2.8z" fill="#000"/>
<rect x="215.2" y="53.5" width="44" height="14.2" fill="url(#dark)"/>
<text x="268.3" y="47.2" font-family="'Liberation Sans', sans-serif" font-size="13" textLength="71.4" lengthAdjust="spacingAndGlyphs">Upper river</text>
<text x="268.3" y="64.7" font-family="'Liberation Sans', sans-serif" font-size="13" textLength="71.4" lengthAdjust="spacingAndGlyphs">Lower river</text>
<text x="0" y="0" font-family="'Liberation Sans', sans-serif" font-size="17.4" transform="translate(13.9,397.0) rotate(-90)">POC:Chl-a (x10), C:N and</text>
<text x="0" y="0" font-family="'Liberation Serif', serif" font-size="17.5" transform="translate(14.2,190.5) rotate(-90)">δ</text>
<text x="0" y="0" font-family="'Liberation Serif', serif" font-size="10.3" transform="translate(8.4,181.8) rotate(-90)">15</text>
<text x="0" y="0" font-family="'Liberation Serif', serif" font-size="17.5" transform="translate(13.7,172.0) rotate(-90)">N</text>
<text x="0" y="0" font-family="'Liberation Sans', sans-serif" font-size="10" transform="translate(18.75,161.4) rotate(-90)">PON</text>
<text x="0" y="0" font-family="'Liberation Sans', sans-serif" font-size="17" transform="translate(14.0,134.2) rotate(-90)">(</text>
<text x="0" y="0" font-family="'Liberation Sans', sans-serif" font-size="18" textLength="21.5" lengthAdjust="spacingAndGlyphs" transform="translate(14.5,127.3) rotate(-90)">‰</text>
<text x="0" y="0" font-family="'Liberation Sans', sans-serif" font-size="17" transform="translate(14.0,104.5) rotate(-90)">)</text>
<text x="0" y="0" font-family="'Liberation Serif', serif" font-size="17.5" transform="translate(680.2,287.8) rotate(-90)">δ</text>
<text x="0" y="0" font-family="'Liberation Serif', serif" font-size="10" transform="translate(675.2,278.6) rotate(-90)">13</text>
<text x="0" y="0" font-family="'Liberation Serif', serif" font-size="17.5" transform="translate(679.7,270.2) rotate(-90)">C</text>
<text x="0" y="0" font-family="'Liberation Sans', sans-serif" font-size="10.5" transform="translate(684.8,258.3) rotate(-90)">POC</text>
<text x="0" y="0" font-family="'Liberation Sans', sans-serif" font-size="17" transform="translate(680.2,229.4) rotate(-90)">(</text>
<text x="0" y="0" font-family="'Liberation Sans', sans-serif" font-size="18" textLength="21" lengthAdjust="spacingAndGlyphs" transform="translate(680.5,223.0) rotate(-90)">‰</text>
<text x="0" y="0" font-family="'Liberation Sans', sans-serif" font-size="17" transform="translate(680.2,199.8) rotate(-90)">)</text>
<text x="0" y="0" font-family="'Liberation Sans', sans-serif" font-size="17.5" text-anchor="middle" transform="translate(184.79999999999998,533.9000000000001) rotate(-40)">POC:Chl-a</text>
<text x="0" y="0" font-family="'Liberation Sans', sans-serif" font-size="17.5" text-anchor="middle" transform="translate(291.0,531.2) rotate(-40)">molar C:N</text>
<text x="0" y="0" font-family="'Liberation Sans', sans-serif" font-size="17.5" text-anchor="middle" transform="translate(396.9,531.2) rotate(-40)">d13C (‰)</text>
<text x="0" y="0" font-family="'Liberation Sans', sans-serif" font-size="17.5" text-anchor="middle" transform="translate(503.0,531.2) rotate(-40)">d15N (‰)</text>
</svg>
</body></html>
